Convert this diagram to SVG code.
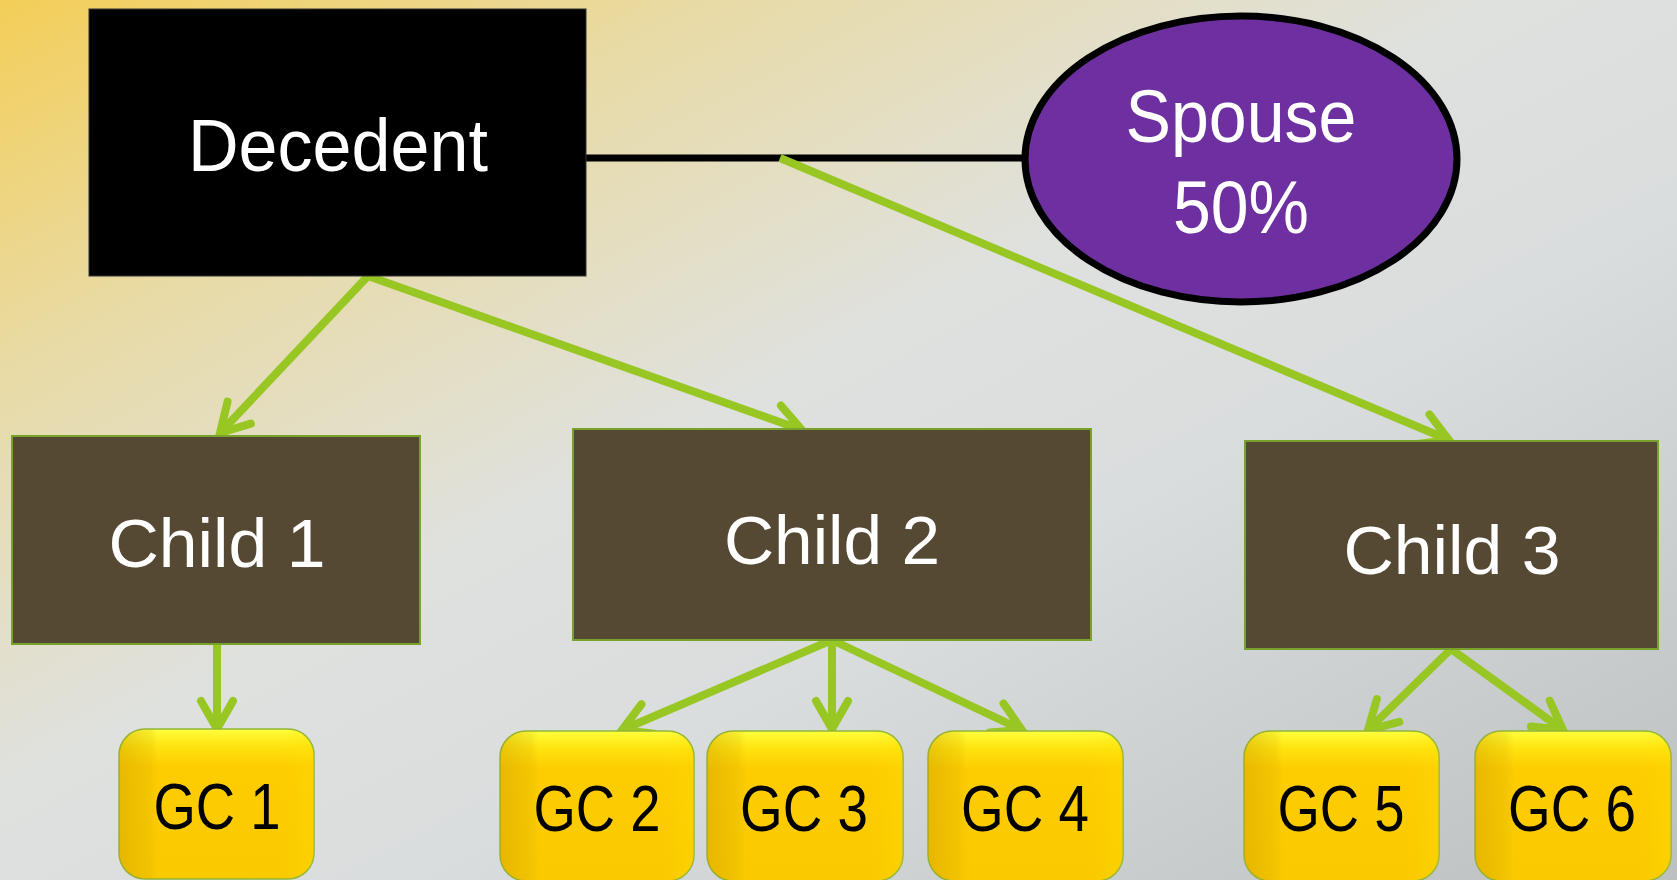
<svg xmlns="http://www.w3.org/2000/svg" width="1677" height="880" viewBox="0 0 1677 880">
  <defs>
    <linearGradient id="bg" x1="0" y1="0" x2="1" y2="1">
      <stop offset="0" stop-color="#F3CE58"/>
      <stop offset="0.22" stop-color="#E8DBA8"/>
      <stop offset="0.45" stop-color="#DFE1DF"/>
      <stop offset="0.62" stop-color="#DADDDD"/>
      <stop offset="1" stop-color="#BCC0C0"/>
    </linearGradient>
    <linearGradient id="gcTop" x1="0" y1="0" x2="0" y2="1">
      <stop offset="0" stop-color="#FFFF3C"/>
      <stop offset="0.12" stop-color="#FFE20E"/>
      <stop offset="0.25" stop-color="#FDCD02"/>
      <stop offset="1" stop-color="#FACA00"/>
    </linearGradient>
    <linearGradient id="gcSide" x1="0" y1="0" x2="1" y2="0">
      <stop offset="0" stop-color="#C89A00" stop-opacity="0.4"/>
      <stop offset="0.16" stop-color="#C89A00" stop-opacity="0.15"/>
      <stop offset="0.2" stop-color="#C89A00" stop-opacity="0"/>
      <stop offset="0.84" stop-color="#FFE000" stop-opacity="0"/>
      <stop offset="1" stop-color="#FFE000" stop-opacity="0.3"/>
    </linearGradient>
    <marker id="head" markerUnits="userSpaceOnUse" viewBox="-36 -24 42 48" refX="0" refY="0" markerWidth="42" markerHeight="48" orient="auto">
      <path d="M-28,-16 L0,0 L-28,16" fill="none" stroke="#98C623" stroke-width="8" stroke-linecap="round" stroke-linejoin="miter"/>
    </marker>
  </defs>
  <style>
    .lbl { font-family: "Liberation Sans Narrow", "Liberation Sans", Arial, sans-serif; text-anchor: middle; }
    .white { fill: #FFFFFF; }
    .dark { fill: #000000; }
    .child rect { fill: #564934; stroke: #79A22A; stroke-width: 2; }
    .gc .base { fill: url(#gcTop); stroke: #8FB63A; stroke-width: 1.5; }
    .gc .shade { fill: url(#gcSide); }
    .arrow { fill: none; stroke: #98C623; stroke-width: 8; marker-end: url(#head); }
  </style>

  <!-- background -->
  <rect x="0" y="0" width="1677" height="880" fill="url(#bg)"/>

  <!-- connectors -->
  <g id="connectors">
    <line x1="586" y1="158" x2="1026" y2="158" stroke="#000000" stroke-width="7"/>
    <path class="arrow" d="M368,276 L220,433"/>
    <path class="arrow" d="M368,276 L802,430"/>
    <path class="arrow" d="M780,158 L1449,440"/>
    <path class="arrow" d="M217,642 L217,729"/>
    <path class="arrow" d="M832,640 L622,730"/>
    <path class="arrow" d="M832,640 L832,729"/>
    <path class="arrow" d="M832,640 L1022,730"/>
    <path class="arrow" d="M1451,649 L1368,730"/>
    <path class="arrow" d="M1451,649 L1563,730"/>
  </g>

  <!-- Decedent -->
  <g id="decedent">
    <rect x="89" y="9" width="497" height="267" fill="#000000" stroke="#333333" stroke-width="1"/>
    <text class="lbl white" x="338" y="171" font-size="75" textLength="300" lengthAdjust="spacingAndGlyphs">Decedent</text>
  </g>

  <!-- Spouse -->
  <g id="spouse">
    <ellipse cx="1241" cy="159" rx="216" ry="143" fill="#6E30A0" stroke="#000000" stroke-width="7"/>
    <text class="lbl white" x="1241" y="142" font-size="75" textLength="231" lengthAdjust="spacingAndGlyphs">Spouse</text>
    <text class="lbl white" x="1241" y="233" font-size="75" textLength="136" lengthAdjust="spacingAndGlyphs">50%</text>
  </g>

  <!-- Children -->
  <g id="child1" class="child">
    <rect x="12" y="436" width="408" height="208"/>
    <text class="lbl white" x="217" y="567" font-size="69" textLength="217" lengthAdjust="spacingAndGlyphs">Child 1</text>
  </g>
  <g id="child2" class="child">
    <rect x="573" y="429" width="518" height="211"/>
    <text class="lbl white" x="832" y="564" font-size="69" textLength="216" lengthAdjust="spacingAndGlyphs">Child 2</text>
  </g>
  <g id="child3" class="child">
    <rect x="1245" y="441" width="413" height="208"/>
    <text class="lbl white" x="1452" y="574" font-size="69" textLength="217" lengthAdjust="spacingAndGlyphs">Child 3</text>
  </g>

  <!-- Grandchildren -->
  <g id="gc1" class="gc">
    <rect class="base" x="119" y="729" width="195" height="150" rx="26"/>
    <rect class="shade" x="119" y="729" width="195" height="150" rx="26"/>
    <text class="lbl dark" x="217" y="829" font-size="64" textLength="127" lengthAdjust="spacingAndGlyphs">GC 1</text>
  </g>
  <g id="gc2" class="gc">
    <rect class="base" x="500" y="731" width="194" height="150" rx="26"/>
    <rect class="shade" x="500" y="731" width="194" height="150" rx="26"/>
    <text class="lbl dark" x="597" y="831" font-size="64" textLength="127" lengthAdjust="spacingAndGlyphs">GC 2</text>
  </g>
  <g id="gc3" class="gc">
    <rect class="base" x="707" y="731" width="196" height="150" rx="26"/>
    <rect class="shade" x="707" y="731" width="196" height="150" rx="26"/>
    <text class="lbl dark" x="804" y="831" font-size="64" textLength="128" lengthAdjust="spacingAndGlyphs">GC 3</text>
  </g>
  <g id="gc4" class="gc">
    <rect class="base" x="928" y="731" width="195" height="150" rx="26"/>
    <rect class="shade" x="928" y="731" width="195" height="150" rx="26"/>
    <text class="lbl dark" x="1025" y="831" font-size="64" textLength="128" lengthAdjust="spacingAndGlyphs">GC 4</text>
  </g>
  <g id="gc5" class="gc">
    <rect class="base" x="1244" y="731" width="195" height="150" rx="26"/>
    <rect class="shade" x="1244" y="731" width="195" height="150" rx="26"/>
    <text class="lbl dark" x="1341" y="831" font-size="64" textLength="127" lengthAdjust="spacingAndGlyphs">GC 5</text>
  </g>
  <g id="gc6" class="gc">
    <rect class="base" x="1475" y="731" width="196" height="150" rx="26"/>
    <rect class="shade" x="1475" y="731" width="196" height="150" rx="26"/>
    <text class="lbl dark" x="1572" y="831" font-size="64" textLength="128" lengthAdjust="spacingAndGlyphs">GC 6</text>
  </g>
</svg>
